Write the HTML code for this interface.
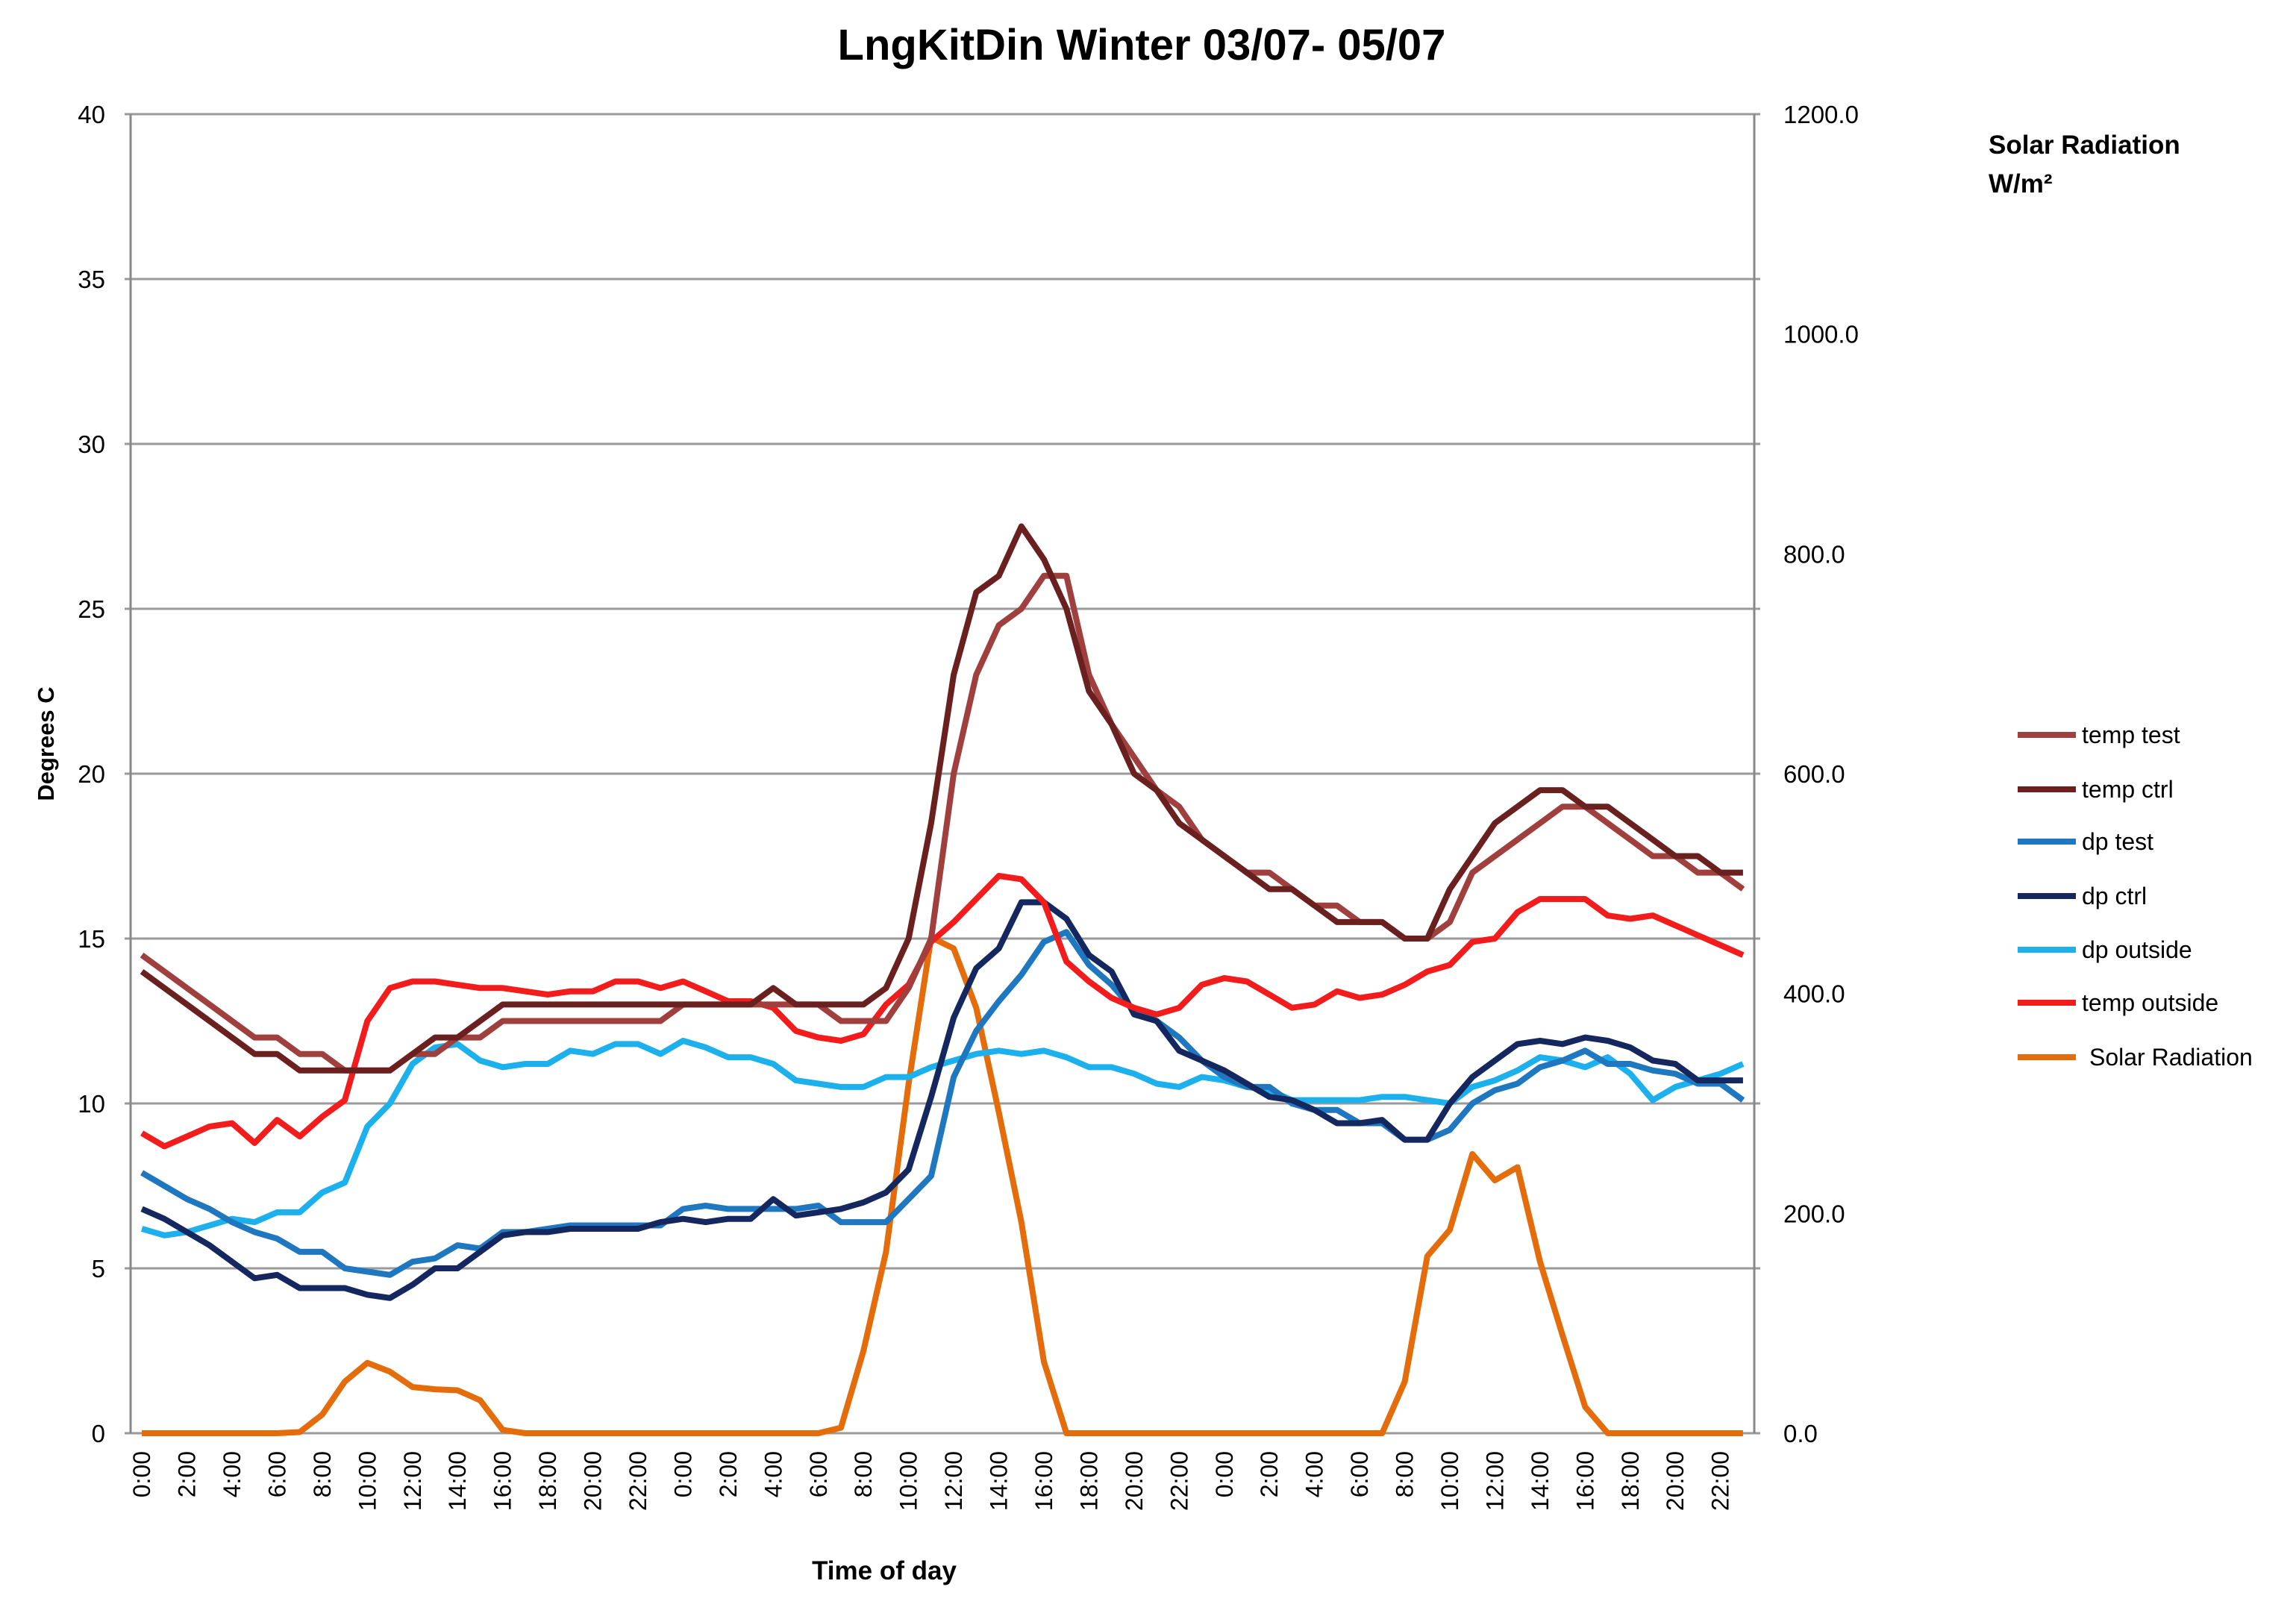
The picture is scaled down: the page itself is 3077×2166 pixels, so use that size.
<!DOCTYPE html>
<html><head><meta charset="utf-8"><style>
html,body{margin:0;padding:0;background:#fff;}
svg{display:block;font-family:"Liberation Sans",sans-serif;}
</style></head><body>
<svg id="chart" width="3077" height="2166" viewBox="0 0 3077 2166">
<text x="1530" y="80" text-anchor="middle" font-size="58" font-weight="bold">LngKitDin Winter 03/07- 05/07</text>
<g id="grid"></g><g id="series"></g><g id="axes"></g>
<text transform="translate(72,997) rotate(-90)" text-anchor="middle" font-size="31" font-weight="bold">Degrees C</text>
<text x="1185" y="2117" text-anchor="middle" font-size="35" font-weight="bold">Time of day</text>
<text x="2665" y="206" font-size="35" font-weight="bold">Solar Radiation</text>
<text x="2665" y="258" font-size="35" font-weight="bold">W/m²</text>
<g id="legend"></g>
</svg>
<script>
const seriesNames=["temp test","temp ctrl","dp test","dp ctrl","dp outside","temp outside","Solar Radiation"];
const seriesColors=["#A0403E","#6B2020","#1F77C0","#14275E","#1CB0EC","#F21C1C","#E46C0A"];
const leftTicks=[0,5,10,15,20,25,30,35,40];
const rightTicks=["0.0","200.0","400.0","600.0","800.0","1000.0","1200.0"];
const tempTest=[14.5,14,13.5,13,12.5,12,12,11.5,11.5,11,11,11,11.5,11.5,12,12,12.5,12.5,12.5,12.5,12.5,12.5,12.5,12.5,13,13,13,13,13,13,13,12.5,12.5,12.5,13.5,15,20,23,24.5,25,26,26,23,21.5,20.5,19.5,19,18,17.5,17,17,16.5,16,16,15.5,15.5,15,15,15.5,17,17.5,18,18.5,19,19,18.5,18,17.5,17.5,17,17,16.5];
const tempCtrl=[14,13.5,13,12.5,12,11.5,11.5,11,11,11,11,11,11.5,12,12,12.5,13,13,13,13,13,13,13,13,13,13,13,13,13.5,13,13,13,13,13.5,15,18.5,23,25.5,26,27.5,26.5,25,22.5,21.5,20,19.5,18.5,18,17.5,17,16.5,16.5,16,15.5,15.5,15.5,15,15,16.5,17.5,18.5,19,19.5,19.5,19,19,18.5,18,17.5,17.5,17,17];
const dpTest=[7.9,7.5,7.1,6.8,6.4,6.1,5.9,5.5,5.5,5,4.9,4.8,5.2,5.3,5.7,5.6,6.1,6.1,6.2,6.3,6.3,6.3,6.3,6.3,6.8,6.9,6.8,6.8,6.8,6.8,6.9,6.4,6.4,6.4,7.1,7.8,10.8,12.2,13.1,13.9,14.9,15.2,14.2,13.6,12.8,12.5,12,11.3,10.8,10.5,10.5,10,9.8,9.8,9.4,9.4,8.9,8.9,9.2,10,10.4,10.6,11.1,11.3,11.6,11.2,11.2,11,10.9,10.6,10.6,10.1];
const dpCtrl=[6.8,6.5,6.1,5.7,5.2,4.7,4.8,4.4,4.4,4.4,4.2,4.1,4.5,5,5,5.5,6,6.1,6.1,6.2,6.2,6.2,6.2,6.4,6.5,6.4,6.5,6.5,7.1,6.6,6.7,6.8,7,7.3,8,10.2,12.6,14.1,14.7,16.1,16.1,15.6,14.5,14,12.7,12.5,11.6,11.3,11,10.6,10.2,10.1,9.8,9.4,9.4,9.5,8.9,8.9,10,10.8,11.3,11.8,11.9,11.8,12,11.9,11.7,11.3,11.2,10.7,10.7,10.7];
const dpOutside=[6.2,6,6.1,6.3,6.5,6.4,6.7,6.7,7.3,7.6,9.3,10,11.2,11.7,11.8,11.3,11.1,11.2,11.2,11.6,11.5,11.8,11.8,11.5,11.9,11.7,11.4,11.4,11.2,10.7,10.6,10.5,10.5,10.8,10.8,11.1,11.3,11.5,11.6,11.5,11.6,11.4,11.1,11.1,10.9,10.6,10.5,10.8,10.7,10.5,10.4,10.1,10.1,10.1,10.1,10.2,10.2,10.1,10,10.5,10.7,11,11.4,11.3,11.1,11.4,10.9,10.1,10.5,10.7,10.9,11.2];
const tempOutside=[9.1,8.7,9,9.3,9.4,8.8,9.5,9,9.6,10.1,12.5,13.5,13.7,13.7,13.6,13.5,13.5,13.4,13.3,13.4,13.4,13.7,13.7,13.5,13.7,13.4,13.1,13.1,12.9,12.2,12,11.9,12.1,13,13.6,14.9,15.5,16.2,16.9,16.8,16.1,14.3,13.7,13.2,12.9,12.7,12.9,13.6,13.8,13.7,13.3,12.9,13,13.4,13.2,13.3,13.6,14,14.2,14.9,15,15.8,16.2,16.2,16.2,15.7,15.6,15.7,15.4,15.1,14.8,14.5];
const solar=[0,0,0,0,0,0,0,1,17,47,64,56,42,40,39,30,3,0,0,0,0,0,0,0,0,0,0,0,0,0,0,5,75,165,318,451,441,387,292,192,65,0,0,0,0,0,0,0,0,0,0,0,0,0,0,0,47,161,185,254,230,242,156,89,24,0,0,0,0,0,0,0];
const N=72;
const L=175,R=2351,T=153,B=1921;
const xs=i=>L+(R-L)/N*(i+0.5);
const yl=v=>B-(B-T)*v/40;
const yr=v=>B-(B-T)*v/1200;
const NS="http://www.w3.org/2000/svg";
function mk(tag,attrs,parent){const e=document.createElementNS(NS,tag);for(const k in attrs)e.setAttribute(k,attrs[k]);parent.appendChild(e);return e;}
const grid=document.getElementById('grid'),axes=document.getElementById('axes'),ser=document.getElementById('series'),leg=document.getElementById('legend');
leftTicks.forEach(v=>{
  const ln=mk('line',{x1:L-8,x2:R+8,y1:yl(v),y2:yl(v),stroke:'#9a9a9a','stroke-width':3},grid);
  
  
  const t=mk('text',{x:141,y:yl(v)+12,'text-anchor':'end','font-size':33},axes);
  t.textContent=v;
  
  
});
rightTicks.forEach((s,k)=>{
  const v=parseFloat(s);
  const t=mk('text',{x:2390,y:yr(v)+12,'font-size':33},axes);
  t.textContent=s;
  
  
});
mk('line',{x1:L,x2:L,y1:T,y2:B,stroke:'#888','stroke-width':3},axes);
mk('line',{x1:R,x2:R,y1:T,y2:B,stroke:'#888','stroke-width':3},axes);
for(let i=0;i<N;i+=2){
  const d=i%24;
  const t=mk('text',{transform:`translate(${xs(i)+11},1945) rotate(-90)`,'text-anchor':'end','font-size':32},axes);
  t.textContent=d+':00';
  
  
}
const data=[tempTest,tempCtrl,dpTest,dpCtrl,dpOutside,tempOutside,solar];
const order=[6,4,2,3,5,0,1];
order.forEach(k=>{
  const arr=data[k];const f=k===6?yr:yl;
  const pts=arr.map((v,i)=>xs(i).toFixed(1)+','+f(v).toFixed(1)).join(' ');
  const p=mk('polyline',{points:pts,fill:'none',stroke:seriesColors[k],'stroke-width':8,'stroke-linejoin':'round'},ser);
  
  
});
const legY=[985,1058,1128,1201,1273,1344,1417];
seriesNames.forEach((n,k)=>{
  const g=mk('g',{},leg);
  
  
  mk('line',{x1:2704,x2:2782,y1:legY[k],y2:legY[k],stroke:seriesColors[k],'stroke-width':8},g);
  const t=mk('text',{x:k===6?2800:2790,y:legY[k]+11,'font-size':32},g);
  t.textContent=n;
});
</script>
</body></html>
